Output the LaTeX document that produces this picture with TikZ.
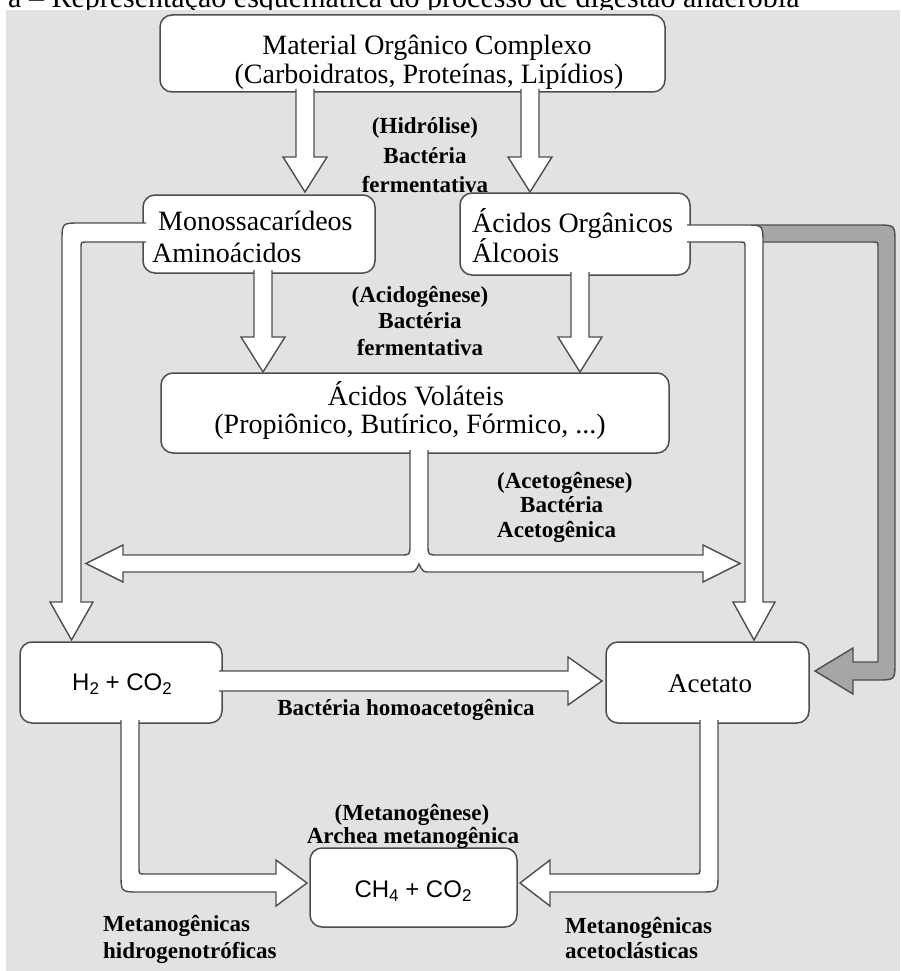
\documentclass[tikz,border=0pt]{standalone}
\usepackage{fontspec}
\setmainfont{Liberation Serif}
\newfontfamily\arialf{Liberation Sans}
\usepackage{graphicx}
\definecolor{bord}{HTML}{4D4D4D}
\definecolor{bgc}{HTML}{E2E2E2}
\definecolor{grayarrow}{HTML}{A6A6A6}
\newcommand\lowsub[1]{\raisebox{-0.35ex}{\fontsize{17}{17}\selectfont #1}}
\tikzset{
  box/.style={draw=bord, line width=1.5pt, fill=white, rounded corners=12pt, inner sep=0pt},
  txt/.style={font=\fontsize{28}{29}\selectfont, inner sep=0pt},
  sanstxt/.style={font=\arialf\fontsize{24}{24}\selectfont, inner sep=0pt},
  lbl/.style={font=\bfseries\fontsize{23}{24}\selectfont, inner sep=0pt},
  blk/.style={fill=white, draw=bord, line width=1.4pt, line join=miter},
  gblk/.style={fill=grayarrow, draw=bord, line width=1.4pt, line join=miter}
}
\begin{document}
\begin{tikzpicture}[x=1pt,y=-1pt]
\useasboundingbox (0,0) rectangle (900,971);
% background
\fill[bgc] (6,10) rectangle (900,971);
% cut caption
\begin{scope}
\clip (0,0) rectangle (900,10);
\node[anchor=base west, inner sep=0pt, font=\fontsize{30}{30}\selectfont] (cap) at (8,7.5) {a -- Representação esquemática do processo de digestão anaeróbia};
\end{scope}

% boxes
\node[box, minimum width=505pt, minimum height=77pt] (b1) at (412.5,53.5) {};
\node[box, minimum width=232pt, minimum height=78pt] (b2) at (259,234) {};
\node[box, minimum width=230pt, minimum height=82pt] (b3) at (575,234) {};
\node[box, minimum width=508pt, minimum height=80pt] (b4) at (415,413) {};
\node[box, minimum width=202pt, minimum height=81pt] (bh) at (121,682.5) {};
\node[box, minimum width=203pt, minimum height=81pt] (ba) at (707.5,682.5) {};
\node[box, minimum width=207pt, minimum height=79pt] (bc) at (413.5,887.5) {};

% gray arrow (Acidos Organicos -> Acetato)
\filldraw[gblk] (755,242) -- (872,242) .. controls (878,242) .. (878,248) -- (878,662)
  -- (853,662) -- (853,648) -- (815,671) -- (853,694) -- (853,680) -- (877,680)
  .. controls (895,680) .. (895,662) -- (895,243) .. controls (895,225) .. (877,225) -- (755,225) -- cycle;

% hydrolysis arrows
\filldraw[blk] (296,89) -- (296,157) -- (283,157) -- (305,192) -- (327,157) -- (314,157) -- (314,89);
\filldraw[blk] (521,89) -- (521,157) -- (508,157) -- (530,192) -- (552,157) -- (539,157) -- (539,89);
% acidogenesis arrows
\filldraw[blk] (254,270) -- (254,337) -- (241,337) -- (263,372) -- (285,337) -- (272,337) -- (272,270);
\filldraw[blk] (571,272) -- (571,337) -- (558,337) -- (580,372) -- (602,337) -- (589,337) -- (589,272);
% long left arrow (b2 -> H2)
\filldraw[blk] (146,242) -- (87,242) .. controls (81,242) .. (81,248) -- (81,602) -- (93,602)
  -- (71.5,640) -- (50,602) -- (62,602) -- (62,241) .. controls (62,223) .. (80,223) -- (146,223);
% long right arrow (b3 -> Acetato)
\filldraw[blk] (687,242) -- (739,242) .. controls (745,242) .. (745,248) -- (745,602) -- (733,602)
  -- (754,640) -- (775,602) -- (763,602) -- (763,243) .. controls (763,225) .. (745,225) -- (687,225);
% acetogenesis double arrow
\filldraw[blk] (410,450) -- (410,545) .. controls (410,555) .. (400,555) -- (123,555) -- (123,545)
  -- (86,563.5) -- (123,582) -- (123,572) -- (408,572) .. controls (415,572) .. (419,564)
  .. controls (423,572) .. (430,572) -- (703,572) -- (703,582) -- (740,563.5) -- (703,545)
  -- (703,555) -- (438,555) .. controls (428,555) .. (428,545) -- (428,450);
% H2 -> Acetato
\filldraw[blk] (219,671) -- (568,671) -- (568,657) -- (602,681) -- (568,705) -- (568,691) -- (219,691);
% H2 -> CH4
\filldraw[blk] (121,720) -- (121,874) .. controls (121,892) .. (139,892) -- (276,892) -- (276,906)
  -- (307,883) -- (276,860) -- (276,874) -- (145,874) .. controls (139,874) .. (139,868) -- (139,720);
% Acetato -> CH4
\filldraw[blk] (700,720) -- (700,868) .. controls (700,874) .. (694,874) -- (550,874) -- (550,860)
  -- (520,883) -- (550,906) -- (550,892) -- (700,892) .. controls (718,892) .. (718,874) -- (718,720);

% box texts
\node[txt, anchor=base] (t1a) at (427,55) {Material Orgânico Complexo};
\node[txt, anchor=base] (t1b) at (429,84) {(Carboidratos, Proteínas, Lipídios)};
\node[txt, anchor=base west] (t2a) at (158,230) {Monossacarídeos};
\node[txt, anchor=base west] (t2b) at (152,262) {Aminoácidos};
\node[txt, anchor=base west] (t3a) at (472,232) {Ácidos Orgânicos};
\node[txt, anchor=base west] (t3b) at (472,262) {Álcoois};
\node[txt, anchor=base] (t4a) at (416,405) {Ácidos Voláteis};
\node[txt, anchor=base] (t4b) at (410,433) {(Propiônico, Butírico, Fórmico, ...)};
\node[sanstxt, anchor=base] (th) at (122,690) {H\lowsub{2} + CO\lowsub{2}};
\node[txt, anchor=base, font=\fontsize{27}{28}\selectfont] (ta) at (710,692) {Acetato};
\node[sanstxt, anchor=base] (tc) at (413,897) {CH\lowsub{4} + CO\lowsub{2}};

% labels
\node[lbl, anchor=base] (l1) at (425,133) {(Hidrólise)};
\node[lbl, anchor=base] (l2) at (425,163) {Bactéria};
\node[lbl, anchor=base] (l3) at (425,192) {fermentativa};
\node[lbl, anchor=base] (l4) at (420,302) {(Acidogênese)};
\node[lbl, anchor=base] (l5) at (420,328) {Bactéria};
\node[lbl, anchor=base] (l6) at (420,355) {fermentativa};
\node[lbl, anchor=base west] (l7) at (497,488) {(Acetogênese)};
\node[lbl, anchor=base west] (l8) at (520,512) {Bactéria};
\node[lbl, anchor=base west] (l9) at (497,537) {Acetogênica};
\node[lbl, anchor=base] (l10) at (406,715) {Bactéria homoacetogênica};
\node[lbl, anchor=base] (l11) at (412,820) {(Metanogênese)};
\node[lbl, anchor=base] (l12) at (413,843) {Archea metanogênica};
\node[lbl, anchor=base west] (l13) at (103,931) {Metanogênicas};
\node[lbl, anchor=base west] (l14) at (103,958) {hidrogenotróficas};
\node[lbl, anchor=base west] (l15) at (565,933) {Metanogênicas};
\node[lbl, anchor=base west] (l16) at (565,958) {acetoclásticas};
\end{tikzpicture}
\end{document}
